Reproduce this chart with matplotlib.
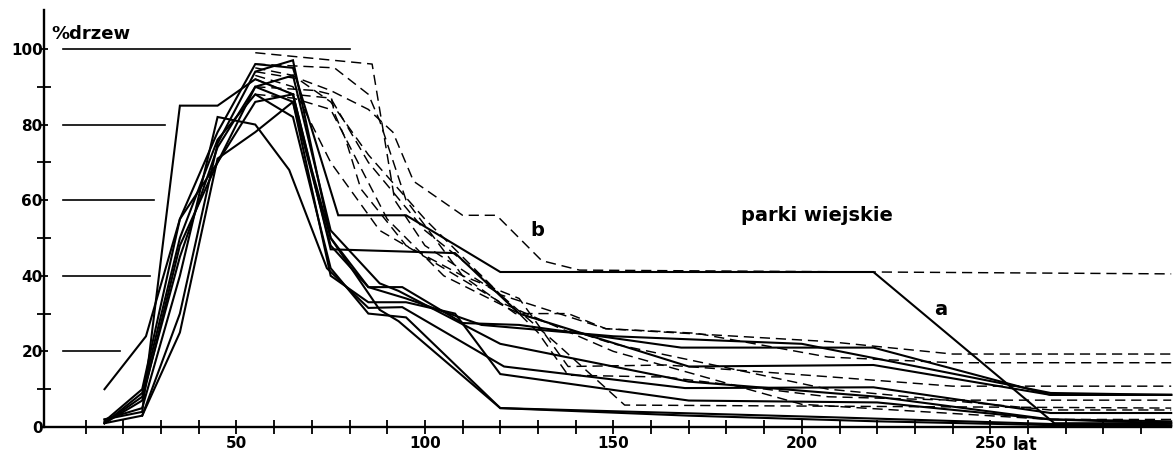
import matplotlib
matplotlib.use("Agg")
import matplotlib.pyplot as plt

# ---- data (age in years, % of trees) ----
s1_age = [15, 25, 35, 45, 55, 65, 77, 95, 120, 219, 267, 298]
s1_pct = [1.5, 10, 55, 78, 96, 95, 56, 56, 41, 41, 1, 1]
s2_age = [15, 25, 35, 45, 55, 65, 70, 75, 85, 94, 110, 125, 168, 219, 266, 298]
s2_pct = [1, 7, 48, 70, 86, 88, 68, 50, 37, 37, 27.5, 27, 21, 21, 8.5, 8.5]
s3_age = [15, 25, 35, 45, 55, 64, 74, 85, 94, 121, 169, 219, 266, 298]
s3_pct = [2, 5, 40, 82, 80, 68, 42, 31.5, 31.7, 16, 10.3, 10.5, 3.7, 3.7]
s4_age = [15, 25, 35, 45, 55, 65, 75, 108, 125, 170, 219, 266, 298]
s4_pct = [2, 4, 85, 85, 92, 88, 47, 46, 30, 16, 16.4, 8.5, 8.5]
s5_age = [15, 25, 35, 45, 55, 65, 75, 85, 95, 108, 120, 170, 220, 266, 298]
s5_pct = [1, 8, 45, 74, 90, 86, 40, 33, 33, 30, 14, 7, 6.5, 2, 1.5]
s6_age = [15, 25, 35, 45, 55, 65, 75, 85, 95, 120, 207, 266, 298]
s6_pct = [1, 9, 50, 76, 88, 82, 42, 30, 29, 5, 2.6, 0.8, 0.5]
s7_age = [15, 26, 35, 45, 55, 65, 75, 88, 93, 120, 170, 220, 266, 298]
s7_pct = [10, 24, 55, 70, 90, 93, 52, 38, 36, 22, 12, 8, 2, 1]
s8_age = [15, 25, 35, 45, 55, 65, 75, 85, 95, 115, 150, 200, 266, 298]
s8_pct = [1, 3, 25, 71, 78, 86, 48, 37, 34, 27, 24, 22, 9, 8.5]
s9_age = [25, 35, 45, 55, 65, 75, 88, 93, 120, 170, 220, 266, 298]
s9_pct = [3, 30, 75, 94, 97, 50, 31, 28, 5, 3, 1.5, 0.5, 0.3]

d1_age = [55, 86, 88, 92, 100, 120, 135, 153, 298]
d1_pct = [99, 96, 84, 60, 48, 35, 22, 5.8, 5]
d2_age = [55, 67, 75, 85, 91.5, 97, 110, 119, 126, 131, 141, 298]
d2_pct = [94, 92, 89, 84, 78, 65, 56, 56, 49, 44, 41.5, 40.5]
d3_age = [55, 76, 85, 88, 95, 110, 124, 138, 148, 207, 240, 298]
d3_pct = [96, 95, 88, 81, 60, 40, 30, 30, 26, 22.6, 19.3, 19.3]
d4_age = [55, 71, 75, 76, 79, 83, 95, 110, 125, 138, 164, 207, 240, 298]
d4_pct = [90, 89, 88, 83, 76, 63, 48, 40, 34, 16, 16.4, 13.3, 10.8, 10.8]
d5_age = [55, 65, 75, 85, 100, 115, 130, 138, 164, 207, 240, 298]
d5_pct = [92, 88, 87, 70, 52, 40, 25, 13.7, 13.2, 8, 7.1, 7.1]
d6_age = [55, 65, 75, 85, 100, 120, 148, 172, 207, 240, 298]
d6_pct = [95, 93, 86, 72, 55, 35, 26, 24.8, 18.5, 17, 17]
d7_age = [55, 65, 75, 90, 105, 125, 150, 207, 266, 298]
d7_pct = [88, 87, 84, 55, 40, 30, 22, 10, 4.5, 4.5]
d8_age = [55, 65, 75, 88, 100, 120, 150, 200, 266, 298]
d8_pct = [93, 90, 70, 52, 45, 33, 20, 6, 2, 2]

# reference lines at the y axis: (level, end age)
ref_levels = [100, 80, 60, 40, 20]
ref_ends = [80, 31, 28, 27, 19]

xtick_values = list(range(10, 300, 10))
xtick_labels = ["50" if v == 50 else "100" if v == 100 else "150" if v == 150
                else "200" if v == 200 else "250" if v == 250 else "" for v in xtick_values]
ytick_major = [0, 20, 40, 60, 80, 100]
ytick_minor = [10, 30, 50, 70, 90]

solid_series = [(s1_age, s1_pct), (s2_age, s2_pct), (s3_age, s3_pct), (s4_age, s4_pct),
                (s5_age, s5_pct), (s6_age, s6_pct), (s7_age, s7_pct), (s8_age, s8_pct),
                (s9_age, s9_pct)]
dashed_series = [(d1_age, d1_pct), (d2_age, d2_pct), (d3_age, d3_pct), (d4_age, d4_pct),
                 (d5_age, d5_pct), (d6_age, d6_pct), (d7_age, d7_pct), (d8_age, d8_pct)]

# ---- figure ----
fig = plt.figure(figsize=(11.73, 4.55), dpi=100)
ax = fig.add_axes([44.2 / 1173, 28 / 455, 1127 / 1173, 417 / 455])
ax.set_xlim(-1, 298)
ax.set_ylim(0, 110.3)

for xs, ys in solid_series:
    ax.plot(xs, ys, color="black", lw=1.5, solid_joinstyle="miter", clip_on=False)
for xs, ys in dashed_series:
    ax.plot(xs, ys, color="black", lw=1.05, dashes=(7, 4), clip_on=False)

for lvl, end in zip(ref_levels, ref_ends):
    ax.plot([4, end], [lvl, lvl], color="black", lw=1.2)

for side in ["top", "right"]:
    ax.spines[side].set_visible(False)
for side in ["left", "bottom"]:
    ax.spines[side].set_linewidth(1.7)

ax.set_xticks(xtick_values)
ax.set_xticklabels(xtick_labels)
ax.set_yticks(ytick_major)
ax.set_yticks(ytick_minor, minor=True)
ax.tick_params(axis="x", direction="inout", length=10, width=1.3, pad=1.5,
               labelsize=11)
ax.tick_params(axis="y", which="major", direction="inout", length=6, width=1.3,
               pad=-2, labelsize=11)
ax.tick_params(axis="y", which="minor", direction="inout", length=10, width=1.3)
for lab in ax.get_xticklabels() + ax.get_yticklabels():
    lab.set_fontweight("bold")

ax.text(1, 104, "%drzew", fontsize=13, fontweight="bold", ha="left", va="center")
ax.text(256, -2.3, "lat", fontsize=12, fontweight="bold", ha="left", va="top",
        clip_on=False)
ax.text(204, 56, "parki wiejskie", fontsize=14, fontweight="bold", ha="center",
        va="center")
ax.text(129.7, 52, "b", fontsize=14, fontweight="bold", ha="center", va="center")
ax.text(236.9, 31.2, "a", fontsize=14, fontweight="bold", ha="center", va="center")

fig.savefig("out.png", dpi=100)
